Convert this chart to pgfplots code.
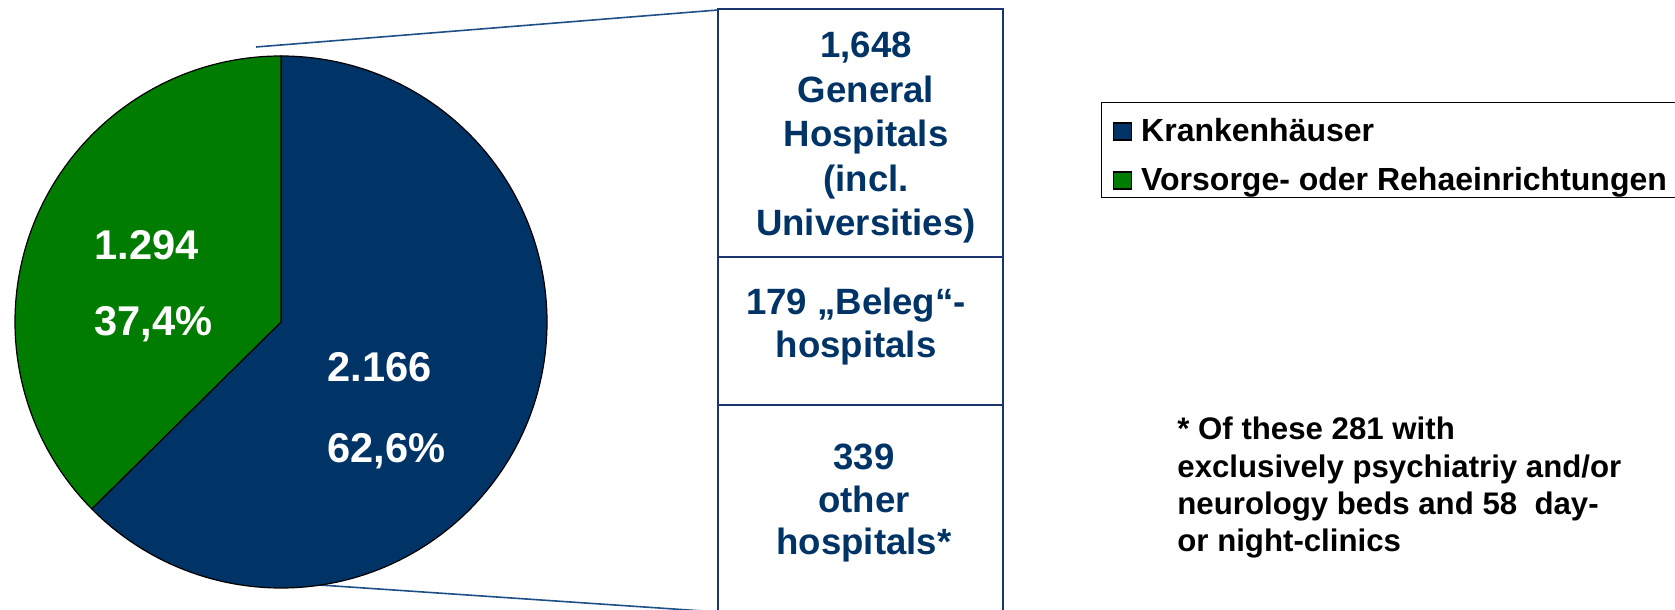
\documentclass[border=0pt]{standalone}
\usepackage{fontspec}
\setmainfont{Liberation Sans}
\usepackage{pgfplots}
\pgfplotsset{compat=1.18}
\definecolor{kblue}{RGB}{0,51,102}
\definecolor{kgreen}{RGB}{0,125,0}
\definecolor{boxblue}{RGB}{25,55,110}
\definecolor{linkblue}{RGB}{30,80,135}

% pie values
\def\valK{2166}
\def\valV{1294}

\begin{document}
\begin{tikzpicture}
\pgfmathsetmacro\total{\valK+\valV}
\pgfmathsetmacro\splitang{90+360*(\valV/\total)}
\begin{axis}[
    scale only axis, width=837.5pt, height=305pt,
    xmin=0, xmax=1675, ymin=0, ymax=610,
    hide axis,
    legend style={at={(axis cs:1101,508)}, anchor=north west, draw=black,
        line width=0.6pt, fill=white,
        font=\bfseries\fontsize{16}{19}\selectfont,
        inner xsep=5.7pt, inner ysep=1pt, row sep=3.5pt, column sep=4.5pt,
        nodes={inner sep=0pt, text height=18.5pt, text depth=2.5pt}},
    legend cell align=left,
    legend image code/.code={\draw[#1] (0pt,-7.25pt) rectangle (9pt,1.25pt);},
]
\addlegendimage{fill=kblue, draw=black, line width=0.6pt}
\addlegendentry{Krankenhäuser}
\addlegendimage{fill=kgreen, draw=black, line width=0.6pt}
\addlegendentry{Vorsorge- oder Rehaeinrichtungen}

% connectors
\draw[linkblue, line width=0.8pt] (axis cs:256,563) -- (axis cs:718,600);
\draw[linkblue, line width=0.8pt] (axis cs:320,25) -- (axis cs:718,-2);

% pie
\filldraw[fill=kblue, draw=black, line width=0.6pt] (axis cs:281,288) -- (axis cs:281,554)
    arc[start angle=90, end angle=\splitang-360, radius=133pt] -- cycle;
\filldraw[fill=kgreen, draw=black, line width=0.6pt] (axis cs:281,288) -- (axis cs:281,554)
    arc[start angle=90, end angle=\splitang, radius=133pt] -- cycle;

\begin{scope}[every node/.style={text=white, font=\bfseries\fontsize{20.8}{25}\selectfont, anchor=base west, inner sep=0pt}]
\node at (axis cs:94,350) {1.294};
\node at (axis cs:94,274) {37,4\%};
\node at (axis cs:327,228) {2.166};
\node at (axis cs:327,147) {62,6\%};
\end{scope}

% breakdown box
\draw[boxblue, line width=1pt] (axis cs:718,-20) rectangle (axis cs:1003,601);
\draw[boxblue, line width=1pt] (axis cs:718,353) -- (axis cs:1003,353);
\draw[boxblue, line width=1pt] (axis cs:718,205) -- (axis cs:1003,205);

\begin{scope}[every node/.style={text=kblue, font=\bfseries\fontsize{18.3}{22}\selectfont, anchor=base, inner sep=0pt}]
\node at (axis cs:866,552) {1,648};
\node at (axis cs:866,507.5) {General};
\node at (axis cs:866,463) {Hospitals};
\node at (axis cs:866,418.5) {(incl.};
\node at (axis cs:866,374) {Universities)};
\node at (axis cs:856,295) {179 „Beleg“-};
\node at (axis cs:856,252) {hospitals};
\node at (axis cs:864,140) {339};
\node at (axis cs:864,97) {other};
\node at (axis cs:864,55) {hospitals*};
\end{scope}

\begin{scope}[every node/.style={text=black, font=\bfseries\fontsize{15.6}{19}\selectfont, anchor=base west, inner sep=0pt}]
\node at (axis cs:1177,170) {* Of these 281 with};
\node at (axis cs:1177,132) {exclusively psychiatriy and/or};
\node at (axis cs:1177,95) {neurology beds and 58\ \ day-};
\node at (axis cs:1177,58) {or night-clinics};
\end{scope}
\end{axis}
\pgfresetboundingbox
\path[use as bounding box] (0,0) rectangle (837.5pt,305pt);
\end{tikzpicture}
\end{document}
